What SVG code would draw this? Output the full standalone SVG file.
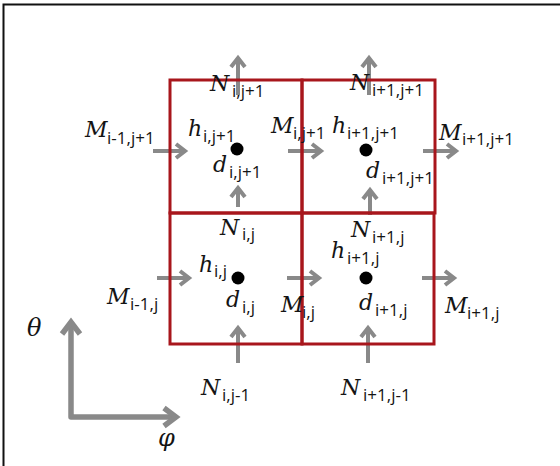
<svg xmlns="http://www.w3.org/2000/svg" width="560" height="466" viewBox="0 0 560 466">
<style>
.cell{fill:none;stroke:#A8161C;stroke-width:3}
.dot{fill:#000}
.arr{fill:none;stroke:#898989;stroke-width:4;marker-end:url(#head)}
.ax{fill:none;stroke:#898989;stroke-width:5.5;stroke-linejoin:round}
.v{font-family:"DejaVu Serif",serif;font-style:italic;font-size:22px;fill:#141414}
.g{font-size:24px}
.s{font-family:"Open Sans",sans-serif;font-style:normal;font-size:17px}
</style>
<defs>
<marker id="head" markerUnits="userSpaceOnUse" orient="auto" overflow="visible" markerWidth="14" markerHeight="18" refX="0" refY="0" viewBox="-12 -9 14 18">
<path d="M-9,-7 L0,0 L-9,7" fill="none" stroke="#898989" stroke-width="4"/>
</marker>
<marker id="axhead" markerUnits="userSpaceOnUse" orient="auto-start-reverse" overflow="visible" markerWidth="20" markerHeight="24" refX="0" refY="0" viewBox="-16 -12 20 24">
<path d="M-12,-9 L0,0 L-12,9" fill="none" stroke="#898989" stroke-width="5.5"/>
</marker>
</defs>
<rect width="560" height="466" fill="#fff"/>
<path d="M3.5,466 V4.5 H560" fill="none" stroke="#111" stroke-width="2"/>

<g id="connectors">
<path class="arr" d="M153,151 H185"/>
<path class="arr" d="M288,151 H321"/>
<path class="arr" d="M423,151 H456"/>
<path class="arr" d="M157,278 H189"/>
<path class="arr" d="M287,278 H319"/>
<path class="arr" d="M422,278 H454"/>
<path class="arr" d="M238,95 V58"/>
<path class="arr" d="M369,95 V58"/>
<path class="arr" d="M238,207 V188"/>
<path class="arr" d="M370,215 V190"/>
<path class="arr" d="M238,363 V328"/>
<path class="arr" d="M368,363 V328"/>
</g>

<g id="cell-i-j1">
<rect class="cell" x="170" y="80" width="132" height="133"/>
<circle class="dot" cx="237" cy="149" r="6.5"/>
<text class="v" x="188" y="136">h<tspan class="s" x="203" y="142">i,j+1</tspan></text>
<text class="v" x="213" y="172">d<tspan class="s" x="229" y="178">i,j+1</tspan></text>
</g>
<g id="cell-i1-j1">
<rect class="cell" x="302" y="80" width="133" height="133"/>
<circle class="dot" cx="366" cy="150" r="6.5"/>
<text class="v" x="332" y="133">h<tspan class="s" x="347" y="139">i+1,j+1</tspan></text>
<text class="v" x="366" y="178">d<tspan class="s" x="382" y="184">i+1,j+1</tspan></text>
</g>
<g id="cell-i-j">
<rect class="cell" x="170" y="213" width="132" height="131"/>
<circle class="dot" cx="238" cy="278" r="6.5"/>
<text class="v" x="199" y="272">h<tspan class="s" x="214" y="277">i,j</tspan></text>
<text class="v" x="226" y="307">d<tspan class="s" x="242" y="313">i,j</tspan></text>
</g>
<g id="cell-i1-j">
<rect class="cell" x="302" y="213" width="132" height="131"/>
<circle class="dot" cx="366" cy="278" r="6.5"/>
<text class="v" x="331" y="258">h<tspan class="s" x="347" y="264">i+1,j</tspan></text>
<text class="v" x="359" y="310">d<tspan class="s" x="375" y="316">i+1,j</tspan></text>
</g>

<g id="flux-labels">
<text class="v" x="210" y="91">N<tspan class="s" x="232" y="97">i,j+1</tspan></text>
<text class="v" x="350" y="90">N<tspan class="s" x="372" y="96">i+1,j+1</tspan></text>
<text class="v" x="85" y="137">M<tspan class="s" x="107" y="144">i-1,j+1</tspan></text>
<text class="v" x="271" y="133">M<tspan class="s" x="293" y="139">i,j+1</tspan></text>
<text class="v" x="439" y="140">M<tspan class="s" x="462" y="145">i+1,j+1</tspan></text>
<text class="v" x="220" y="235">N<tspan class="s" x="242" y="240">i,j</tspan></text>
<text class="v" x="351" y="237">N<tspan class="s" x="372" y="243">i+1,j</tspan></text>
<text class="v" x="107" y="304">M<tspan class="s" x="130" y="310">i-1,j</tspan></text>
<text class="v" x="281" y="312">M<tspan class="s" x="302" y="318">i,j</tspan></text>
<text class="v" x="445" y="313">M<tspan class="s" x="467" y="319">i+1,j</tspan></text>
<text class="v" x="201" y="395">N<tspan class="s" x="222" y="401">i,j-1</tspan></text>
<text class="v" x="341" y="395">N<tspan class="s" x="363" y="401">i+1,j-1</tspan></text>
</g>

<g id="axes">
<path class="ax" d="M71,322 V417 H176" marker-start="url(#axhead)" marker-end="url(#axhead)"/>
<text class="v g" x="27" y="336">θ</text>
<text class="v g" x="158" y="446">φ</text>
</g>
</svg>
